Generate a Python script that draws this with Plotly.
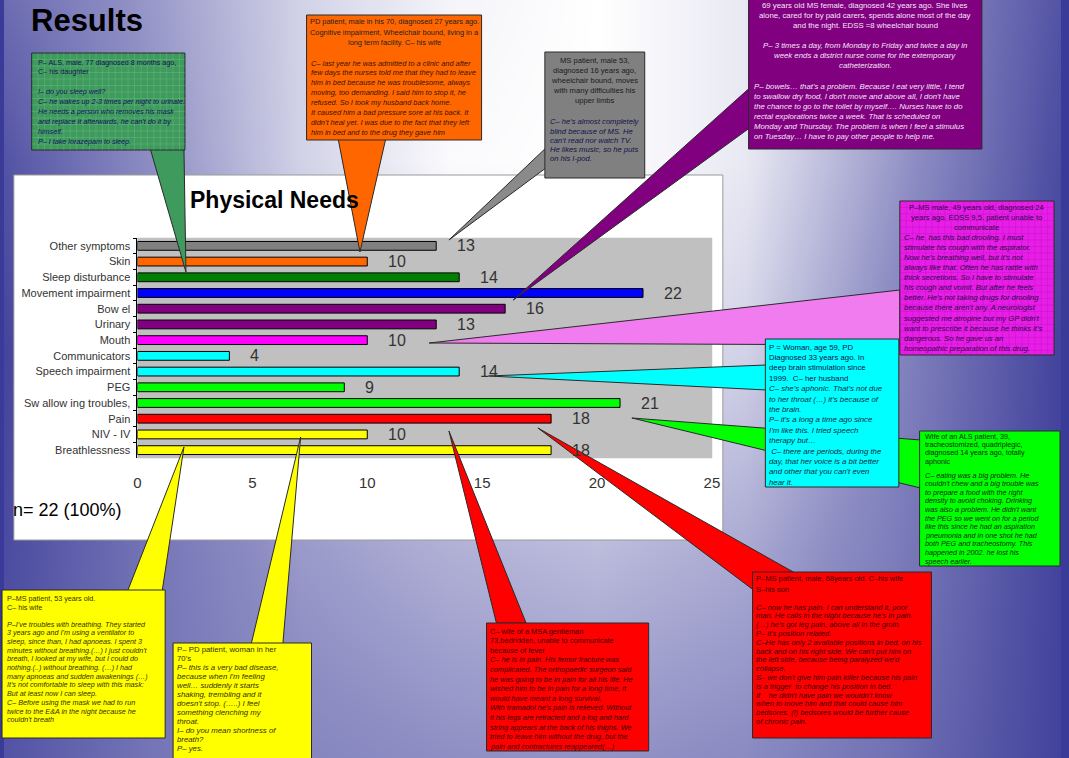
import plotly.graph_objects as go

W, H = 1069, 758
FONT = "Liberation Sans, Arial, sans-serif"

# ---------------- data ----------------
categories = ["Other symptoms", "Skin", "Sleep disturbance", "Movement impairment", "Bow el",
              "Urinary", "Mouth", "Communicators", "Speech impairment", "PEG",
              "Sw allow ing troubles,", "Pain", "NIV - IV", "Breathlessness"]
counts = [13, 10, 14, 22, 16, 13, 10, 4, 14, 9, 21, 18, 10, 18]
x_ticks = [0, 5, 10, 15, 20, 25]
total_label = "n= 22 (100%)"
chart_title = "Physical Needs"
page_title = "Results"

bar_colors = ["#808080", "#ff6600", "#008000", "#0000ff", "#800080", "#800080", "#ff00ff",
              "#00ffff", "#00ffff", "#00ff00", "#00ff00", "#ff0000", "#ffff00", "#ffff00"]

GREEN_TL_HEAD = ["P– ALS, male, 77 diagnosed 8 months ago,", "C– his daughter"]
GREEN_TL_BODY = ["I– do you sleep well?", "C– he wakes up 2-3 times per night to urinate.",
                 "He needs a person who removes his mask", "and replace it afterwards, he can't do it by",
                 "himself.", "P– I take lorazepam to sleep."]

ORANGE_HEAD = ["PD patient, male in his 70, diagnosed 27 years ago.",
               "Cognitive impairment, Wheelchair bound, living in a", "long term facility. C– his wife"]
ORANGE_BODY = ["C– last year he was admitted to a clinic and after",
               "few days the nurses told me that they had to leave",
               "him in bed because he was troublesome, always",
               "moving, too demanding. I said him to stop it, he",
               "refused. So I took my husband back home.",
               "It caused him a bad pressure sore at his back. It",
               "didn't heal yet. I was due to the fact that they left",
               "him in bed and to the drug they gave him"]

GRAY_HEAD = ["MS patient, male 53,", "diagnosed 16 years ago,", "wheelchair bound, moves",
             "with many difficulties his", "upper limbs"]
GRAY_BODY = ["C– he's almost completely", "blind because of MS. He", "can't read nor watch TV.",
             "He likes music, so he puts", "on his I-pod."]

PURPLE_HEAD = ["69 years old MS female, diagnosed 42 years ago. She lives",
               "alone, cared for by paid carers, spends alone most of the day",
               "and the night. EDSS =8 wheelchair bound"]
PURPLE_MID = ["P– 3 times a day, from Monday to Friday and twice a day in",
              "week ends a district nurse come for the extemporary", "catheterization."]
PURPLE_BODY = ["P– bowels… that's a problem. Because I eat very little, I tend",
               "to swallow dry food, I don't move and above all, I don't have",
               "the chance to go to the toilet by myself…. Nurses have to do",
               "rectal explorations twice a week. That is scheduled on",
               "Monday and Thursday. The problem is when I feel a stimulus",
               "on Tuesday… I have to pay other people to help me."]

MAGENTA_HEAD = ["P–MS male, 49 years old, diagnosed 24", "years ago. EDSS 9,5. patient unable to",
                "communicate"]
MAGENTA_BODY = ["C– he  has this bad drooling. I must", "stimulate his cough with the aspirator.",
                "Now he's breathing well, but it's not", "always like that. Often he has rattle with",
                "thick secretions. So I have to stimulate", "his cough and vomit. But after he feels",
                "better. He's not taking drugs for drooling", "because there aren't any. A neurologist",
                "suggested me atropine but my GP didn't", "want to prescribe it because he thinks it's",
                "dangerous. So he gave us an", "homeopathic preparation of this drug."]

CYAN_HEAD = ["P = Woman, age 59, PD", "Diagnosed 33 years ago. In", "deep brain stimulation since",
             "1999.  C– her husband"]
CYAN_BODY = ["C– she's aphonic. That's not due", "to her throat (…) it's because of", "the brain.",
             "P– it's a long a time ago since", "I'm like this. I tried speech", "therapy but…",
             " C– there are periods, during the", "day, that her voice is a bit better",
             "and other that you can't even", "hear it."]

GREEN_HEAD = ["Wife of an ALS patient, 39,", "tracheostomized, quadriplegic,",
              "diagnosed 14 years ago, totally", "aphonic"]
GREEN_BODY = ["C– eating was a big problem. He", "couldn't chew and a big trouble was",
              "to prepare a food with the right", "density to avoid choking. Drinking",
              "was also a problem. He didn't want", "the PEG so we went on for a period",
              "like this since he had an aspiration", "pneumonia and in one shot he had",
              "both PEG and tracheostomy. This", "happened in 2002. he lost his", "speech earlier."]

YELLOW1_HEAD = ["P–MS patient, 53 years old.", "C– his wife"]
YELLOW1_BODY = ["P–I've troubles with breathing. They started", "3 years ago and I'm using a ventilator to",
                "sleep, since than, I had apnoeas. I spent 3", "minutes without breathing.(…) I just couldn't",
                "breath, I looked at my wife, but I could do", "nothing.(..) without breathing. (…) I had",
                "many apnoeas and sudden awakenings (…)", "It's not comfortable to sleep with this mask:",
                "But at least now I can sleep.", "C– Before using the mask we had to run",
                "twice to the E&amp;A in the night because he", "couldn't breath"]

YELLOW2_HEAD = ["P– PD patient, woman in her", "70's"]
YELLOW2_BODY = ["P– this is a very bad disease,", "because when I'm feeling", "well… suddenly it starts",
                "shaking, trembling and it", "doesn't stop. (…..) I feel", "something clenching my",
                "throat.", "I– do you mean shortness of", "breath?", "P– yes."]

RED1_HEAD = ["C– wife of a MSA gentleman", "73,bedridden, unable to communicate", "because of fever"]
RED1_BODY = ["C– he is in pain. His femur fracture was", "complicated. The orthopaedic surgeon said",
             "he was going to be in pain for all his life. He", "wished him to be in pain for a long time, it",
             "would have meant a long survival.", "With tramadol he's pain is relieved. Without",
             "it his legs are retracted and a log and hard", "string appears at the back of his thighs. We",
             "tried to leave him without the drug, but the", "pain and contractures reappeared(…)"]

RED2_HEAD = ["P–MS patient, male, 68years old. C–his wife", "S–his son"]
RED2_BODY = ["C– now he has pain. I can understand it, poor", "man. He calls in the night because he's in pain.",
             "(…) he's got leg pain, above all in the groin.", "P– it's position related.",
             "C–He has only 2 available positions in bed: on his", "back and on his right side. We can't put him on",
             "the left side, because being paralyzed we'd", "collapse.",
             "S– we don't give him pain killer because his pain", "is a trigger  to change his position in bed.",
             "If    he didn't have pain we wouldn't know", "when to move him and that could cause him",
             "bedsores. (!) bedsores would be further cause", "of chronic pain."]

# background brightness (0 = edge blue, 1 = white)
bg_x = [0, 150, 300, 450, 600, 750, 900, 1069]
bg_y = [0, 160, 350, 550, 758]
bg_z = [[0.30, 0.55, 0.80, 0.95, 1.00, 0.90, 0.55, 0.15],
        [0.15, 0.50, 0.80, 0.98, 1.00, 0.90, 0.55, 0.10],
        [0.06, 0.40, 0.70, 0.85, 0.90, 0.80, 0.45, 0.05],
        [0.10, 0.35, 0.55, 0.65, 0.70, 0.62, 0.40, 0.05],
        [0.15, 0.35, 0.45, 0.50, 0.52, 0.48, 0.32, 0.05]]

# ---------------- helpers ----------------
def px(x):
    return x / W


def py(y):
    return 1 - y / H


shapes = []
annotations = []


def rect(x0, y0, x1, y1, fill, line="#2a2a2a"):
    shapes.append(dict(type="rect", xref="paper", yref="paper", x0=px(x0), x1=px(x1),
                       y0=py(y1), y1=py(y0), fillcolor=fill, line=dict(color=line, width=1),
                       layer="above"))


def tri(pts, fill, line="#2a2a2a"):
    path = "M " + " L ".join(f"{px(a):.5f},{py(b):.5f}" for a, b in pts) + " Z"
    shapes.append(dict(type="path", xref="paper", yref="paper", path=path, fillcolor=fill,
                       line=dict(color=line, width=1), layer="above"))


def grid(x0, y0, x1, y1, step, color):
    segs = []
    gx = x0 + step
    while gx < x1:
        segs.append(f"M {px(gx):.5f},{py(y0):.5f} L {px(gx):.5f},{py(y1):.5f}")
        gx += step
    gy = y0 + step
    while gy < y1:
        segs.append(f"M {px(x0):.5f},{py(gy):.5f} L {px(x1):.5f},{py(gy):.5f}")
        gy += step
    shapes.append(dict(type="path", xref="paper", yref="paper", path=" ".join(segs),
                       line=dict(color=color, width=0.6), layer="above"))


def put_lines(lines, x, y0, dy, size, color, italic=False, anchor="left"):
    for k, t in enumerate(lines):
        if not t.strip():
            continue
        txt = f"<i>{t}</i>" if italic else t
        annotations.append(dict(text=txt, x=px(x), y=py(y0 + k * dy), xref="paper", yref="paper",
                                xanchor=anchor, yanchor="middle", showarrow=False, borderpad=0,
                                font=dict(size=size, color=color, family=FONT)))


# ---------------- figure ----------------
fig = go.Figure()

# background gradient
fig.add_trace(go.Heatmap(x=bg_x, y=bg_y, z=bg_z, zsmooth="best", showscale=False,
                         zmin=0, zmax=1, hoverinfo="skip",
                         colorscale=[[0, "#3a3a98"], [0.5, "#8e8ec4"], [1, "#ffffff"]],
                         xaxis="x", yaxis="y"))

# chart panel + plot area
PL, PR, PT, PB = 135, 716, 238, 458
fig.add_trace(go.Scatter(x=[10, 727, 727, 10, 10], y=[175, 175, 540, 540, 175], mode="lines",
                         fill="toself", fillcolor="#ffffff", line=dict(color="#9a9a9a", width=1),
                         hoverinfo="skip", xaxis="x2", yaxis="y2"))
fig.add_trace(go.Scatter(x=[PL, PR, PR, PL, PL], y=[PT, PT, PB, PB, PT], mode="lines",
                         fill="toself", fillcolor="#c0c0c0", line=dict(color="#c0c0c0", width=0.5),
                         hoverinfo="skip", xaxis="x2", yaxis="y2"))

# bars
fig.add_trace(go.Bar(y=categories, x=counts, orientation="h", width=0.56,
                     marker=dict(color=bar_colors, line=dict(color="#000000", width=1)),
                     hoverinfo="skip", xaxis="x3", yaxis="y3"))

for c, v in zip(categories, counts):
    annotations.append(dict(text=str(v), x=v, y=c, xref="x3", yref="y3", xanchor="left",
                            yanchor="middle", xshift=19, showarrow=False,
                            font=dict(size=16, color="#333333", family=FONT)))

annotations.append(dict(text=f"<b>{page_title}</b>", x=px(25), y=py(20), xref="paper", yref="paper",
                        xanchor="left", yanchor="middle", showarrow=False,
                        font=dict(size=31, color="#000000", family=FONT)))
annotations.append(dict(text=f"<b>{chart_title}</b>", x=px(186), y=py(200), xref="paper", yref="paper",
                        xanchor="left", yanchor="middle", showarrow=False,
                        font=dict(size=23, color="#000000", family=FONT)))
annotations.append(dict(text=total_label, x=px(7), y=py(510), xref="paper", yref="paper",
                        xanchor="left", yanchor="middle", showarrow=False,
                        font=dict(size=18, color="#000000", family=FONT)))

# ---------------- callouts ----------------
# green (top left, hatched)
tri([(148, 149), (182, 149), (184, 272)], "#3f9a5e")
rect(28, 53, 183, 150, "#3f9a5e")
grid(28, 53, 183, 150, 6.5, "rgba(120,200,140,0.55)")
put_lines(GREEN_TL_HEAD, 33, 62, 9.9, 7.2, "#141450")
put_lines(GREEN_TL_BODY, 33, 62 + 3 * 9.9, 9.9, 7.2, "#141460", italic=True)

# orange
tri([(338, 139), (386, 139), (360, 252)], "#ff6600")
rect(306, 15, 483, 140, "#ff6600")
put_lines(ORANGE_HEAD, 394.5, 22, 10.3, 7.4, "#222222", anchor="center")
put_lines(ORANGE_BODY, 309, 63, 9.9, 7.4, "#3a1400", italic=True)

# gray
tri([(548, 148), (548, 168), (450, 240)], "#8a8a8a")
rect(547, 52, 648, 178, "#808080")
put_lines(GRAY_HEAD, 597.5, 60, 10.2, 7.6, "#1a1a1a", anchor="center")
put_lines(GRAY_BODY, 551, 122, 9.2, 7.6, "#12124a", italic=True)

# purple
tri([(754, 88), (754, 128), (515, 300)], "#800080")
rect(753, -2, 989, 149, "#800080")
put_lines(PURPLE_HEAD, 871, 5, 10.15, 7.8, "#f6e6f6", anchor="center")
put_lines(PURPLE_MID, 871, 5 + 4 * 10.15, 10.15, 7.8, "#f6e6f6", italic=True, anchor="center")
put_lines(PURPLE_BODY, 757, 5 + 8 * 10.15, 10.15, 7.8, "#f6e6f6", italic=True)

# magenta (hatched)
tri([(906, 290), (906, 345), (430, 343)], "#f07cf0")
rect(906, 201, 1062, 355, "#e61ee6")
grid(906, 201, 1062, 355, 6.5, "rgba(190,0,190,0.45)")
put_lines(MAGENTA_HEAD, 984, 207, 10.1, 7.6, "#2a0a4a", anchor="center")
put_lines(MAGENTA_BODY, 909, 207 + 3 * 10.1, 10.1, 7.6, "#2a0a4a", italic=True)

# green (right)
tri([(927, 440), (927, 488), (635, 418)], "#00ff00")
rect(926, 431, 1068, 566, "#00ff00")
put_lines(GREEN_HEAD, 930, 436, 8.4, 7.2, "#0a2a0a")
put_lines(GREEN_BODY, 930, 475, 8.6, 7.2, "#0a2a0a", italic=True)

# cyan
tri([(771, 365), (771, 390), (490, 376)], "#00ffff")
rect(770, 339, 905, 487, "#00ffff")
put_lines(CYAN_HEAD, 773, 347, 10.4, 7.8, "#10104a")
put_lines(CYAN_BODY, 773, 347 + 4 * 10.4, 10.4, 7.8, "#0a2a40", italic=True)

# yellow (bottom left)
tri([(125, 591), (160, 591), (182, 447)], "#ffff00")
rect(-2, 590, 163, 738, "#ffff00")
put_lines(YELLOW1_HEAD, 2, 598, 9.3, 7.2, "#333000")
put_lines(YELLOW1_BODY, 2, 624, 8.7, 7.2, "#333000", italic=True)

# yellow (bottom)
tri([(250, 644), (282, 644), (300, 437)], "#ffff00")
rect(171, 643, 311, 760, "#ffff00")
put_lines(YELLOW2_HEAD, 174, 649, 9.0, 7.8, "#333000")
put_lines(YELLOW2_BODY, 174, 649 + 2 * 9.0, 9.0, 7.8, "#333000", italic=True)

# red (bottom middle)
tri([(498, 623), (528, 623), (450, 431)], "#ff0000")
rect(488, 623, 652, 751, "#ff0000")
put_lines(RED1_HEAD, 491, 631, 9.6, 7.4, "#3a0000")
put_lines(RED1_BODY, 491, 631 + 3 * 9.6, 9.6, 7.4, "#3a0000", italic=True)

# red (bottom right)
tri([(758, 590), (800, 573), (540, 428)], "#ff0000")
rect(757, 572, 938, 738, "#ff0000")
put_lines(RED2_HEAD, 760, 578, 11, 7.5, "#3a0000")
put_lines(RED2_BODY, 760, 607, 8.8, 7.5, "#3a0000", italic=True)

full_x = dict(domain=[0, 1], range=[0, W], visible=False, showgrid=False, zeroline=False, fixedrange=True)
full_y = dict(domain=[0, 1], range=[H, 0], visible=False, showgrid=False, zeroline=False, fixedrange=True)

fig.update_layout(
    width=W, height=H, margin=dict(l=0, r=0, t=0, b=0), autosize=False,
    paper_bgcolor="#3a3a98", plot_bgcolor="rgba(0,0,0,0)",
    showlegend=False, hovermode=False,
    xaxis=full_x, yaxis=full_y,
    xaxis2=dict(full_x, anchor="y2"), yaxis2=dict(full_y, anchor="x2"),
    xaxis3=dict(domain=[px(PL), px(PR)], range=[0, 25], tickvals=x_ticks, anchor="y3",
                showgrid=False, zeroline=False, showline=False, ticks="",
                ticklabelstandoff=14, tickfont=dict(size=15, color="#333333", family=FONT)),
    yaxis3=dict(domain=[py(PB), py(PT)], type="category", categoryorder="array",
                categoryarray=categories, range=[len(categories) - 0.5, -0.5], anchor="x3",
                showgrid=False, zeroline=False, showline=True, linecolor="#000000", linewidth=1,
                ticks="outside", ticklen=3, tickcolor="#000000", tickson="boundaries",
                ticklabelstandoff=4,
                tickfont=dict(size=11, color="#333333", family=FONT)),
    shapes=shapes, annotations=annotations,
    font=dict(family=FONT),
)

fig.write_html("out.html", config={"displayModeBar": False, "responsive": False},
               post_script="document.documentElement.style.overflow='hidden';"
                           "document.body.style.margin='0';document.body.style.padding='0';"
                           "document.body.style.overflow='hidden';")
